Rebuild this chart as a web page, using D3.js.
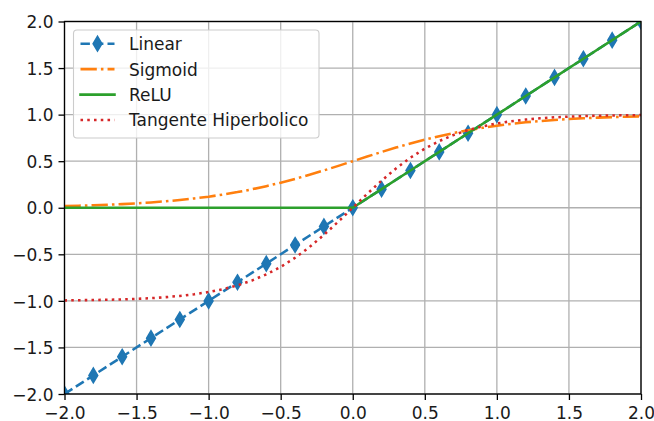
<!DOCTYPE html>
<html><head><meta charset="utf-8">
<script src="https://cdn.jsdelivr.net/npm/d3@7"></script>
<style>body{margin:0;background:#fff}svg{display:block}</style>
</head><body>
<svg id="c" width="654" height="421"></svg>
<script>
// ---- data ----
const xCoarse = [-2.0,-1.8,-1.6,-1.4,-1.2,-1.0,-0.8,-0.6,-0.4,-0.2,0.0,0.2,0.4,0.6,0.8,1.0,1.2,1.4,1.6,1.8,2.0];
const linearY = [-2.0,-1.8,-1.6,-1.4,-1.2,-1.0,-0.8,-0.6,-0.4,-0.2,0.0,0.2,0.4,0.6,0.8,1.0,1.2,1.4,1.6,1.8,2.0];
const reluY   = [0,0,0,0,0,0,0,0,0,0,0.0,0.2,0.4,0.6,0.8,1.0,1.2,1.4,1.6,1.8,2.0];
const xFine = [-2.0,-1.9,-1.8,-1.7,-1.6,-1.5,-1.4,-1.3,-1.2,-1.1,-1.0,-0.9,-0.8,-0.7,-0.6,-0.5,-0.4,-0.3,-0.2,-0.1,0.0,
               0.1,0.2,0.3,0.4,0.5,0.6,0.7,0.8,0.9,1.0,1.1,1.2,1.3,1.4,1.5,1.6,1.7,1.8,1.9,2.0];
const sigmoidY = [0.018,0.022,0.027,0.032,0.039,0.047,0.057,0.069,0.083,0.100,0.119,0.142,0.168,0.198,0.232,0.269,0.310,0.354,0.401,0.450,0.500,
                  0.550,0.599,0.646,0.690,0.731,0.768,0.802,0.832,0.858,0.881,0.900,0.917,0.931,0.943,0.953,0.961,0.968,0.973,0.978,0.982];
const tanhY = [-0.995,-0.993,-0.991,-0.988,-0.984,-0.978,-0.971,-0.960,-0.947,-0.929,-0.905,-0.874,-0.834,-0.782,-0.716,-0.635,-0.537,-0.422,-0.291,-0.149,0.0,
               0.149,0.291,0.422,0.537,0.635,0.716,0.782,0.834,0.874,0.905,0.929,0.947,0.960,0.971,0.978,0.984,0.988,0.991,0.993,0.995];
const tickValues = [-2.0,-1.5,-1.0,-0.5,0.0,0.5,1.0,1.5,2.0];
const seriesNames = ["Linear","Sigmoid","ReLU","Tangente Hiperbolico"];

// ---- layout ----
const L = 64.5, R = 641, T = 21.5, B = 394;
const FS = 17;
const svg = d3.select("#c");
const x = d3.scaleLinear().domain([-2,2]).range([L,R]);
const y = d3.scaleLinear().domain([-2,2]).range([B,T]);
const fmt = v => d3.format(".1f")(v).replace("-", "\u2212");

svg.append("defs").append("clipPath").attr("id","clip")
  .append("rect").attr("x",L).attr("y",T).attr("width",R-L).attr("height",B-T);

// grid
const grid = svg.append("g");
grid.selectAll(".gx").data(tickValues).join("line")
  .attr("x1",d=>x(d)).attr("x2",d=>x(d)).attr("y1",T).attr("y2",B)
  .attr("stroke","#b0b0b0").attr("stroke-width",1.3);
grid.selectAll(".gy").data(tickValues).join("line")
  .attr("y1",d=>y(d)).attr("y2",d=>y(d)).attr("x1",L).attr("x2",R)
  .attr("stroke","#b0b0b0").attr("stroke-width",1.3);

// series
const plot = svg.append("g").attr("clip-path","url(#clip)");
const lineGen = d3.line().x(d=>x(d[0])).y(d=>y(d[1]));
const zip = (a,b) => a.map((v,i)=>[v,b[i]]);
const LW = 2.55;
const styles = [
  {color:"#1f77b4", dash:"9.4,4.1"},
  {color:"#ff7f0e", dash:"16.3,4.1,2.55,4.1"},
  {color:"#2ca02c", dash:null},
  {color:"#d62728", dash:"2.55,4.2"}
];
const seriesData = [zip(xCoarse,linearY), zip(xFine,sigmoidY), zip(xCoarse,reluY), zip(xFine,tanhY)];

// diamond ('d') marker path
const MH = 7.2, MW = 4.3;
const diamond = `M0,${-MH}L${MW},0L0,${MH}L${-MW},0Z`;

function drawSeries(i){
  const s = styles[i];
  plot.append("path").datum(seriesData[i]).attr("d",lineGen)
    .attr("fill","none").attr("stroke",s.color).attr("stroke-width",LW)
    .attr("stroke-dasharray",s.dash).attr("stroke-linecap", s.dash ? "butt" : "square")
    .attr("stroke-linejoin","round");
  if(i===0){
    plot.selectAll(".mk").data(seriesData[0]).join("path")
      .attr("d",diamond).attr("transform",d=>`translate(${x(d[0])},${y(d[1])})`)
      .attr("fill",s.color).attr("stroke",s.color).attr("stroke-width",1.7).attr("stroke-linejoin","miter");
  }
}
[0,1,2,3].forEach(drawSeries);

// axes
const xAxis = d3.axisBottom(x).tickValues(tickValues).tickFormat(fmt).tickSize(6).tickPadding(4);
const yAxis = d3.axisLeft(y).tickValues(tickValues).tickFormat(fmt).tickSize(6).tickPadding(5);
const gx = svg.append("g").attr("transform",`translate(0,${B})`).call(xAxis);
const gy = svg.append("g").attr("transform",`translate(${L},0)`).call(yAxis);
[gx,gy].forEach(g=>{
  g.select(".domain").remove();
  g.selectAll(".tick line").attr("stroke","#000").attr("stroke-width",1.3);
  g.selectAll(".tick text").attr("font-family","DejaVu Sans").attr("font-size",FS).attr("fill","#1a1a1a");
});
gx.selectAll(".tick text").attr("dy","0.9em");
gy.selectAll(".tick text").attr("dy","0.36em");

// spines
svg.append("rect").attr("x",L).attr("y",T).attr("width",R-L).attr("height",B-T)
  .attr("fill","none").attr("stroke","#000").attr("stroke-width",1.3);

// legend
const lg = svg.append("g");
lg.append("rect").attr("x",73.5).attr("y",30).attr("width",245.5).attr("height",108).attr("rx",3.5)
  .attr("fill","#fff").attr("fill-opacity",0.8).attr("stroke","#cccccc").attr("stroke-width",1.1);
const rowY = [43.7, 69.1, 94.6, 120];
seriesNames.forEach((name,i)=>{
  const s = styles[i];
  const ry = rowY[i];
  lg.append("line").attr("x1",80.5).attr("x2",114.5).attr("y1",ry).attr("y2",ry)
    .attr("stroke",s.color).attr("stroke-width",LW).attr("stroke-dasharray",s.dash)
    .attr("stroke-linecap", s.dash ? "butt" : "square");
  if(i===0){
    lg.append("path").attr("d",diamond).attr("transform",`translate(97.5,${ry})`)
      .attr("fill",s.color).attr("stroke",s.color).attr("stroke-width",1.7);
  }
  lg.append("text").attr("x",129).attr("y",ry+6.4).text(name)
    .attr("font-family","DejaVu Sans").attr("font-size",FS).attr("fill","#1a1a1a");
});
</script>
</body></html>
